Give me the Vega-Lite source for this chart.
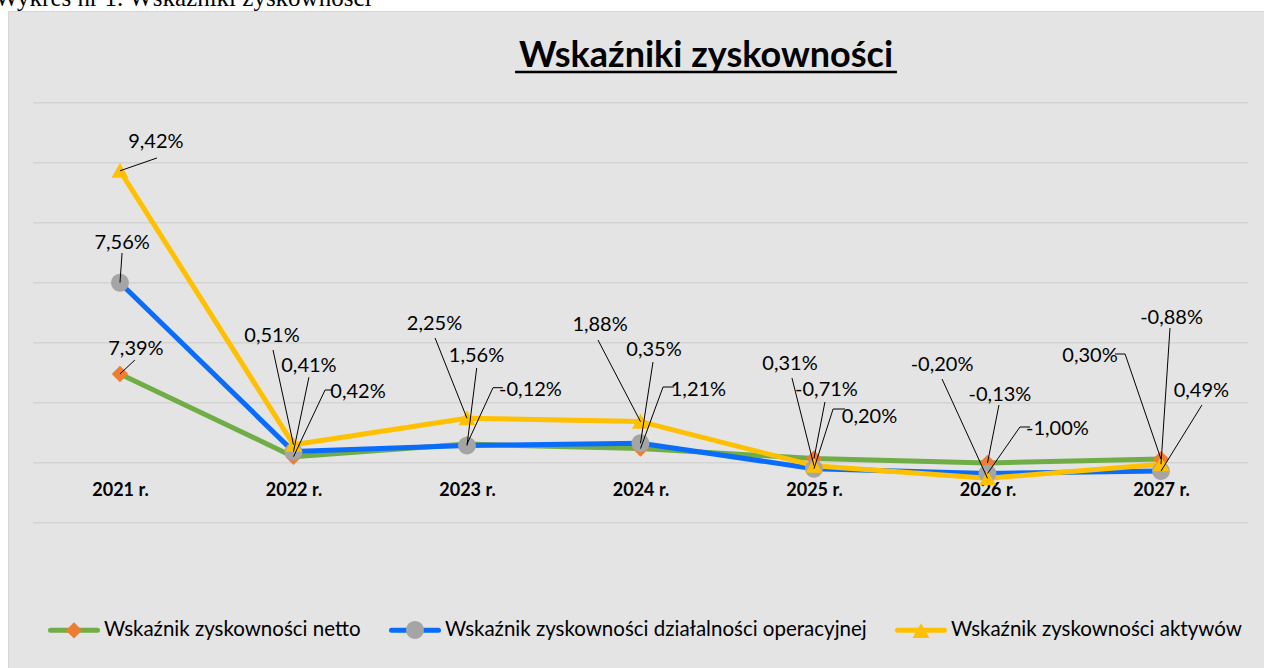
{
  "$schema": "https://vega.github.io/schema/vega-lite/v6.json",
  "width": 1256,
  "height": 657,
  "autosize": {"type": "none"},
  "padding": {"left": 8, "top": 11, "right": 0, "bottom": 0},
  "background": "white",
  "view": {"fill": "#e4e4e4", "stroke": "#d6d6d6", "strokeWidth": 1},
  "config": {"font": "Lato"},
  "datasets": {
    "wskazniki": [
      {"rok": 2021, "wskaznik": "Wskaźnik zyskowności netto", "wartosc": 2.96, "etykieta": "7,39%"},
      {"rok": 2022, "wskaznik": "Wskaźnik zyskowności netto", "wartosc": 0.2, "etykieta": "0,42%"},
      {"rok": 2023, "wskaznik": "Wskaźnik zyskowności netto", "wartosc": 0.62, "etykieta": "-0,12%"},
      {"rok": 2024, "wskaznik": "Wskaźnik zyskowności netto", "wartosc": 0.47, "etykieta": "1,21%"},
      {"rok": 2025, "wskaznik": "Wskaźnik zyskowności netto", "wartosc": 0.14, "etykieta": "-0,71%"},
      {"rok": 2026, "wskaznik": "Wskaźnik zyskowności netto", "wartosc": -0.01, "etykieta": "-0,13%"},
      {"rok": 2027, "wskaznik": "Wskaźnik zyskowności netto", "wartosc": 0.12, "etykieta": "0,30%"},
      {"rok": 2021, "wskaznik": "Wskaźnik zyskowności działalności operacyjnej", "wartosc": 6.0, "etykieta": "7,56%"},
      {"rok": 2022, "wskaznik": "Wskaźnik zyskowności działalności operacyjnej", "wartosc": 0.37, "etykieta": "0,41%"},
      {"rok": 2023, "wskaznik": "Wskaźnik zyskowności działalności operacyjnej", "wartosc": 0.57, "etykieta": "1,56%"},
      {"rok": 2024, "wskaznik": "Wskaźnik zyskowności działalności operacyjnej", "wartosc": 0.65, "etykieta": "0,35%"},
      {"rok": 2025, "wskaznik": "Wskaźnik zyskowności działalności operacyjnej", "wartosc": -0.2, "etykieta": "0,20%"},
      {"rok": 2026, "wskaznik": "Wskaźnik zyskowności działalności operacyjnej", "wartosc": -0.36, "etykieta": "-1,00%"},
      {"rok": 2027, "wskaznik": "Wskaźnik zyskowności działalności operacyjnej", "wartosc": -0.28, "etykieta": "0,49%"},
      {"rok": 2021, "wskaznik": "Wskaźnik zyskowności aktywów", "wartosc": 9.73, "etykieta": "9,42%"},
      {"rok": 2022, "wskaznik": "Wskaźnik zyskowności aktywów", "wartosc": 0.6, "etykieta": "0,51%"},
      {"rok": 2023, "wskaznik": "Wskaźnik zyskowności aktywów", "wartosc": 1.48, "etykieta": "2,25%"},
      {"rok": 2024, "wskaznik": "Wskaźnik zyskowności aktywów", "wartosc": 1.37, "etykieta": "1,88%"},
      {"rok": 2025, "wskaznik": "Wskaźnik zyskowności aktywów", "wartosc": -0.1, "etykieta": "0,31%"},
      {"rok": 2026, "wskaznik": "Wskaźnik zyskowności aktywów", "wartosc": -0.52, "etykieta": "-0,20%"},
      {"rok": 2027, "wskaznik": "Wskaźnik zyskowności aktywów", "wartosc": -0.05, "etykieta": "-0,88%"}
    ],
    "pozycje": [
      {"etykieta": "9,42%", "tx": 2021.207, "ty": 10.69, "lx": 2021.213, "ly": 10.157},
      {"etykieta": "7,56%", "tx": 2021.012, "ty": 7.323, "lx": 2021.012, "ly": 6.99},
      {"etykieta": "7,39%", "tx": 2021.092, "ty": 3.79, "lx": 2021.086, "ly": 3.423},
      {"etykieta": "0,51%", "tx": 2021.876, "ty": 4.223, "lx": 2021.882, "ly": 3.757},
      {"etykieta": "0,41%", "tx": 2022.089, "ty": 3.223, "lx": 2022.089, "ly": 2.85},
      {"etykieta": "0,42%", "tx": 2022.372, "ty": 2.357, "lx": 2022.182, "ly": 2.423, "ex": 2022.228},
      {"etykieta": "2,25%", "tx": 2022.813, "ty": 4.64, "lx": 2022.816, "ly": 4.157},
      {"etykieta": "1,56%", "tx": 2023.055, "ty": 3.557, "lx": 2023.056, "ly": 3.157},
      {"etykieta": "-0,12%", "tx": 2023.366, "ty": 2.44, "lx": 2023.15, "ly": 2.5, "ex": 2023.207},
      {"etykieta": "1,88%", "tx": 2023.767, "ty": 4.59, "lx": 2023.755, "ly": 4.09},
      {"etykieta": "0,35%", "tx": 2024.078, "ty": 3.757, "lx": 2024.072, "ly": 3.357},
      {"etykieta": "1,21%", "tx": 2024.334, "ty": 2.44, "lx": 2024.13, "ly": 2.523, "ex": 2024.193},
      {"etykieta": "0,31%", "tx": 2024.862, "ty": 3.29, "lx": 2024.873, "ly": 2.823},
      {"etykieta": "-0,71%", "tx": 2025.072, "ty": 2.407, "lx": 2025.063, "ly": 2.023},
      {"etykieta": "0,20%", "tx": 2025.32, "ty": 1.523, "lx": 2025.11, "ly": 1.79, "ex": 2025.179},
      {"etykieta": "-0,20%", "tx": 2025.738, "ty": 3.257, "lx": 2025.738, "ly": 2.79},
      {"etykieta": "-0,13%", "tx": 2026.072, "ty": 2.273, "lx": 2026.066, "ly": 1.923},
      {"etykieta": "-1,00%", "tx": 2026.403, "ty": 1.123, "lx": 2026.187, "ly": 1.19, "ex": 2026.245},
      {"etykieta": "0,30%", "tx": 2026.591, "ty": 3.557, "lx": 2026.793, "ly": 3.623, "ex": 2026.735},
      {"etykieta": "-0,88%", "tx": 2027.061, "ty": 4.84, "lx": 2027.052, "ly": 4.49},
      {"etykieta": "0,49%", "tx": 2027.233, "ty": 2.39, "lx": 2027.236, "ly": 1.923}
    ]
  },
  "layer": [
    {
      "data": {"values": [{"poziom": -2}, {"poziom": 0}, {"poziom": 2}, {"poziom": 4}, {"poziom": 6}, {"poziom": 8}, {"poziom": 10}, {"poziom": 12}]},
      "mark": {"type": "rule", "color": "#d3d3d3", "strokeWidth": 1.4},
      "encoding": {
        "y": {"field": "poziom", "type": "quantitative", "axis": null},
        "x": {"datum": 2020.5, "type": "quantitative"},
        "x2": {"datum": 2027.5}
      }
    },
    {
      "data": {"name": "wskazniki"},
      "mark": {"type": "line", "strokeWidth": 5, "strokeCap": "round", "strokeJoin": "round"},
      "encoding": {
        "x": {
          "field": "rok",
          "type": "quantitative",
          "title": null,
          "scale": {"domain": [2020.3545, 2027.5937], "nice": false, "zero": false},
          "axis": {
            "values": [2021, 2022, 2023, 2024, 2025, 2026, 2027],
            "orient": "bottom",
            "offset": -173,
            "domain": false,
            "ticks": false,
            "tickSize": 0,
            "grid": false,
            "labelPadding": 0,
            "labelBaseline": "alphabetic",
            "labelFont": "Lato",
            "labelFontSize": 18,
            "labelFontWeight": "bold",
            "labelColor": "#000000",
            "labelFlush": false,
            "labelOverlap": false,
            "labelExpr": "datum.value + ((datum.value == 2022 || datum.value == 2025) ? '  r.' : ' r.')"
          }
        },
        "y": {
          "field": "wartosc",
          "type": "quantitative",
          "scale": {"domain": [-6.8433, 15.0567], "nice": false, "zero": false},
          "axis": null
        },
        "stroke": {
          "field": "wskaznik",
          "type": "nominal",
          "scale": {
            "domain": ["Wskaźnik zyskowności netto", "Wskaźnik zyskowności działalności operacyjnej", "Wskaźnik zyskowności aktywów"],
            "range": ["#70AD47", "#0A6CFA", "#FFC000"]
          },
          "legend": {
            "title": null,
            "orient": "none",
            "legendX": 40,
            "legendY": 593,
            "direction": "horizontal",
            "symbolType": "M-1,0L1,0",
            "symbolSize": 2209,
            "symbolStrokeWidth": 5,
            "symbolFillColor": "transparent",
            "labelFont": "Lato",
            "labelFontSize": 20.5,
            "labelColor": "#000000",
            "labelOffset": 4,
            "labelLimit": 0,
            "columnPadding": 20,
            "padding": 0,
            "zindex": 1,
            "encode": {"symbols": {"update": {"strokeCap": {"value": "round"}}}}
          }
        }
      }
    },
    {
      "data": {"name": "wskazniki"},
      "mark": {"type": "point", "filled": true, "size": 2209, "opacity": 1, "strokeWidth": 0},
      "encoding": {
        "x": {"field": "rok", "type": "quantitative", "title": null},
        "y": {"field": "wartosc", "type": "quantitative", "axis": null},
        "fill": {
          "field": "wskaznik",
          "type": "nominal",
          "sort": "descending",
          "scale": {"range": ["#ED7D31", "#A5A5A5", "#FFC000"]},
          "legend": {
            "title": null,
            "orient": "none",
            "legendX": 40,
            "legendY": 593,
            "direction": "horizontal",
            "symbolSize": 2209,
            "symbolStrokeWidth": 5,
            "symbolStrokeColor": "transparent",
            "labelFont": "Lato",
            "labelFontSize": 20.5,
            "labelColor": "transparent",
            "labelOffset": 4,
            "labelLimit": 0,
            "columnPadding": 20,
            "padding": 0,
            "zindex": 2
          }
        },
        "shape": {
          "field": "wskaznik",
          "type": "nominal",
          "sort": "descending",
          "scale": {"range": [
            "M-1,0L1,0M0,-0.35L0.35,0L0,0.35L-0.35,0Z",
            "M-1,0L1,0M-0.38,0A0.38,0.38,0,1,0,0.38,0A0.38,0.38,0,1,0,-0.38,0Z",
            "M-1,0L1,0M0,-0.33L0.36,0.3L-0.36,0.3Z"
          ]},
          "legend": {
            "title": null,
            "orient": "none",
            "legendX": 40,
            "legendY": 593,
            "direction": "horizontal",
            "symbolSize": 2209,
            "symbolStrokeWidth": 5,
            "symbolStrokeColor": "transparent",
            "labelFont": "Lato",
            "labelFontSize": 20.5,
            "labelColor": "transparent",
            "labelOffset": 4,
            "labelLimit": 0,
            "columnPadding": 20,
            "padding": 0,
            "zindex": 2
          }
        }
      }
    },
    {
      "data": {"name": "wskazniki"},
      "transform": [
        {"lookup": "etykieta", "from": {"data": {"name": "pozycje"}, "key": "etykieta", "fields": ["tx", "ty", "lx", "ly", "ex"]}}
      ],
      "mark": {"type": "rule", "color": "#000000", "strokeWidth": 1},
      "encoding": {
        "x": {"field": "lx", "type": "quantitative", "title": null},
        "y": {"field": "ly", "type": "quantitative", "axis": null},
        "x2": {"field": "rok"},
        "y2": {"field": "wartosc"}
      }
    },
    {
      "data": {"name": "wskazniki"},
      "transform": [
        {"lookup": "etykieta", "from": {"data": {"name": "pozycje"}, "key": "etykieta", "fields": ["tx", "ty", "lx", "ly", "ex"]}},
        {"filter": "isValid(datum.ex)"}
      ],
      "mark": {"type": "rule", "color": "#000000", "strokeWidth": 1},
      "encoding": {
        "x": {"field": "lx", "type": "quantitative", "title": null},
        "x2": {"field": "ex"},
        "y": {"field": "ly", "type": "quantitative", "axis": null}
      }
    },
    {
      "data": {"name": "wskazniki"},
      "transform": [
        {"lookup": "etykieta", "from": {"data": {"name": "pozycje"}, "key": "etykieta", "fields": ["tx", "ty", "lx", "ly", "ex"]}}
      ],
      "mark": {"type": "text", "font": "Lato", "fontSize": 20, "color": "#000000", "align": "center", "baseline": "middle"},
      "encoding": {
        "x": {"field": "tx", "type": "quantitative", "title": null},
        "y": {"field": "ty", "type": "quantitative", "axis": null},
        "text": {"field": "etykieta", "type": "nominal"}
      }
    },
    {
      "data": {"values": [{}]},
      "mark": {"type": "text", "text": "Wskaźniki zyskowności", "font": "Lato", "fontSize": 36, "fontWeight": "bold", "color": "#000000", "align": "center", "baseline": "alphabetic"},
      "encoding": {
        "x": {"datum": 2024.378, "type": "quantitative"},
        "y": {"datum": 13.19, "type": "quantitative", "axis": null}
      }
    },
    {
      "data": {"values": [{}]},
      "mark": {"type": "rule", "color": "#000000", "strokeWidth": 2.5},
      "encoding": {
        "x": {"datum": 2023.277, "type": "quantitative"},
        "x2": {"datum": 2025.478},
        "y": {"datum": 13.02, "type": "quantitative", "axis": null}
      }
    },
    {
      "data": {"values": [{}]},
      "mark": {"type": "text", "text": "Wykres nr 1. Wskaźniki zyskowności", "font": "Liberation Serif", "fontSize": 25, "color": "#000000", "align": "left", "baseline": "alphabetic", "clip": false},
      "encoding": {
        "x": {"datum": 2020.2796, "type": "quantitative"},
        "y": {"datum": 15.24, "type": "quantitative", "axis": null}
      }
    }
  ]
}
